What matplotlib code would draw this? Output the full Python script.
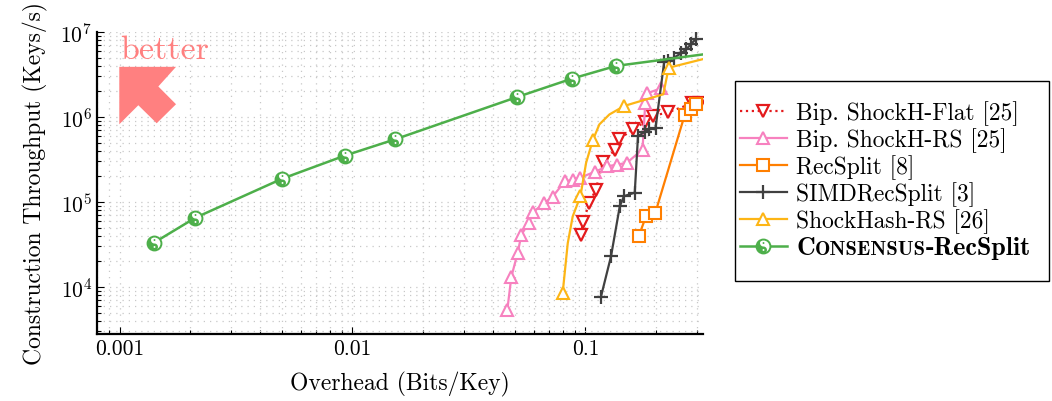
import numpy as np
import matplotlib
matplotlib.use("Agg")
import matplotlib.pyplot as plt
from matplotlib.path import Path
from matplotlib.patches import Polygon, Rectangle
from matplotlib.ticker import FuncFormatter, NullFormatter, LogLocator
from matplotlib.offsetbox import TextArea, HPacker
from matplotlib.legend_handler import HandlerTuple

plt.rcParams['font.family'] = 'cmr10'
plt.rcParams['mathtext.fontset'] = 'cm'
plt.rcParams['axes.formatter.use_mathtext'] = True

# values (overhead in bits/key, throughput in keys/s)
flat_x = [0.0958, 0.0977, 0.104, 0.1107, 0.1191, 0.1344, 0.1394, 0.1594, 0.1798, 0.195, 0.2252, 0.288, 0.31]
flat_y = [41100, 58500, 97300, 139000, 295000, 414000, 545000, 714000, 871000, 1.03e6, 1.13e6, 1.45e6, 1.47e6]

bip_rs_x = [0.0462, 0.0481, 0.0512, 0.0531, 0.0571, 0.0598, 0.0664, 0.0724, 0.0816, 0.0888,
            0.0952, 0.1104, 0.1242, 0.1364, 0.1506, 0.1759, 0.1807, 0.1842, 0.2116]
bip_rs_y = [5350, 13200, 25200, 41100, 57000, 76700, 96200, 116000, 175000, 182000,
            194000, 228000, 263000, 275000, 289000, 414000, 1.45e6, 1.90e6, 2.18e6]

recsplit_x = [0.1692, 0.1825, 0.1994, 0.2667, 0.283, 0.2988]
recsplit_y = [39300, 68900, 73800, 1.05e6, 1.25e6, 1.41e6]

simd_x = [0.1167, 0.1288, 0.1405, 0.1464, 0.1629, 0.1682, 0.1795, 0.1879, 0.2,
          0.218, 0.2256, 0.2405, 0.257, 0.2716, 0.2836, 0.2979]
simd_y = [7730, 22900, 89200, 117000, 129000, 596000, 667000, 714000, 740000,
          4.48e6, 4.59e6, 5.01e6, 5.59e6, 6.28e6, 7.19e6, 8.24e6]

shrs_x = [0.0799, 0.084, 0.0882, 0.0952, 0.1007, 0.1075, 0.1148, 0.1267, 0.1469, 0.216, 0.2278, 0.32]
shrs_y = [8570, 32800, 67600, 117000, 289000, 530000, 818000, 1.07e6, 1.35e6, 1.85e6, 3.80e6, 4.8e6]
shrs_marked = [0, 3, 5, 8, 10]

cons_x = [0.0014, 0.002116, 0.00499, 0.00929, 0.0152, 0.051, 0.0877, 0.1354, 0.32]
cons_y = [33000, 65300, 188000, 352000, 545000, 1.72e6, 2.83e6, 3.99e6, 5.45e6]
cons_marked = [0, 1, 2, 3, 4, 5, 6, 7]

c_red = '#e41a1c'
c_pink = '#f781bf'
c_orange = '#ff7f00'
c_gray = '#404040'
c_yellow = '#fdb515'
c_green = '#4daf4a'

# yin-yang shaped marker
a1 = np.radians(np.linspace(90, 270, 40))
a2 = np.radians(np.linspace(-90, 90, 30))
a3 = np.radians(np.linspace(-90, -270, 30))
outline = np.vstack([
    np.column_stack([np.cos(a1), np.sin(a1)]),
    np.column_stack([0.5 * np.cos(a2), -0.5 + 0.5 * np.sin(a2)]),
    np.column_stack([0.5 * np.cos(a3), 0.5 + 0.5 * np.sin(a3)]),
])
ad = np.radians(np.linspace(0, 360, 16))
dot_in = np.column_stack([0.14 * np.cos(ad), 0.5 + 0.14 * np.sin(ad)])
dot_out = np.column_stack([0.14 * np.cos(-ad), -0.5 + 0.14 * np.sin(-ad)])
verts = np.vstack([outline, outline[:1], dot_in, dot_out])
codes = ([Path.MOVETO] + [Path.LINETO] * (len(outline) - 1) + [Path.CLOSEPOLY]
         + [Path.MOVETO] + [Path.LINETO] * (len(dot_in) - 1)
         + [Path.MOVETO] + [Path.LINETO] * (len(dot_out) - 1))
yinyang = Path(verts, codes)

fig = plt.figure(figsize=(10.52, 4.02), dpi=100)
ax = fig.add_axes([0.0922, 0.1667, 0.5761, 0.7512])
ax.set_xscale('log')
ax.set_yscale('log')

h1, = ax.plot(flat_x, flat_y, ':', color=c_red, lw=1.6, marker='v', ms=8, mfc='white', mew=1.6)
h2, = ax.plot(bip_rs_x, bip_rs_y, '-', color=c_pink, lw=1.6, marker='^', ms=8, mfc='white', mew=1.5)
h3, = ax.plot(recsplit_x, recsplit_y, '-', color=c_orange, lw=1.6, marker='s', ms=8, mfc='white', mew=1.5)
h4, = ax.plot(simd_x, simd_y, '-', color=c_gray, lw=1.6, marker='+', ms=10, mew=1.6)
h5, = ax.plot(shrs_x, shrs_y, '-', color=c_yellow, lw=1.6, marker='^', ms=8, mfc='white', mew=1.5,
              markevery=shrs_marked)
h6, = ax.plot(cons_x, cons_y, '-', color=c_green, lw=1.8, marker='o', ms=10, mfc='white', mew=1.4,
              markevery=cons_marked)
h6b, = ax.plot(cons_x, cons_y, ls='none', marker=yinyang, ms=10, mfc=c_green, mec=c_green, mew=0,
               markevery=cons_marked)

ax.set_xlim(8e-4, 0.32)
ax.set_ylim(2.8e3, 1e7)
ax.xaxis.set_major_locator(LogLocator(base=10))
ax.xaxis.set_major_formatter(FuncFormatter(lambda v, _: f"{v:g}"))
ax.xaxis.set_minor_formatter(NullFormatter())
ax.yaxis.set_minor_formatter(NullFormatter())

ax.grid(which='both', color='#c8c8c8', linestyle=(0, (1, 4)), linewidth=0.9)
ax.set_axisbelow(True)
for s in ['top', 'right']:
    ax.spines[s].set_visible(False)
for s in ['left', 'bottom']:
    ax.spines[s].set_linewidth(1.6)
ax.tick_params(which='both', direction='in', labelsize=15.5, width=0.8)
ax.tick_params(which='major', length=5)
ax.tick_params(which='minor', length=3)

ax.set_xlabel("Overhead (Bits/Key)", fontsize=17, labelpad=9)
ax.set_ylabel("Construction Throughput (Keys/s)", fontsize=17, labelpad=9)

# "better" hint in the top left corner
ax.text(0.038, 0.914, "better", transform=ax.transAxes, color='#ff8080', fontsize=24.5, va='baseline')
arrow = Polygon([(0.0368, 0.8847), (0.1304, 0.8847), (0.1012, 0.8196), (0.1304, 0.7608),
                 (0.0985, 0.6977), (0.0682, 0.7575), (0.0368, 0.6944)],
                closed=True, transform=ax.transAxes, facecolor='#ff8080', edgecolor='none')
ax.add_patch(arrow)

labels = ["Bip. ShockH-Flat [25]", "Bip. ShockH-RS [25]", "RecSplit [8]",
          "SIMDRecSplit [3]", "ShockHash-RS [26]", "CONSENSUS-RecSplit"]
leg = ax.legend([h1, h2, h3, h4, h5, (h6, h6b)], labels,
                handler_map={tuple: HandlerTuple(ndivide=1)},
                loc='center left', bbox_to_anchor=(0.7034, 0.551), bbox_transform=fig.transFigure,
                fontsize=16.85, frameon=False,
                borderpad=0, handlelength=2.0, handletextpad=0.4, labelspacing=0.1,
                numpoints=1, borderaxespad=0)

# legend frame with the tall padding of the original
fig.patches.append(Rectangle((0.6987, 0.2985), 0.2985, 0.4975, transform=fig.transFigure,
                             facecolor='none', edgecolor='black', linewidth=1.0))

# small caps for the last entry
try:
    item = leg._legend_handle_box.get_children()[0].get_children()[-1]
    caps = HPacker(children=[TextArea("C", textprops=dict(family='cmb10', size=18.6)),
                             TextArea("ONSENSUS", textprops=dict(family='cmb10', size=14.8)),
                             TextArea("-RecSplit", textprops=dict(family='cmb10', size=18.6))],
                   align='baseline', pad=0, sep=0)
    caps.set_figure(fig)
    item._children[1] = caps
except Exception:
    pass

fig.savefig("out.png", dpi=100)
